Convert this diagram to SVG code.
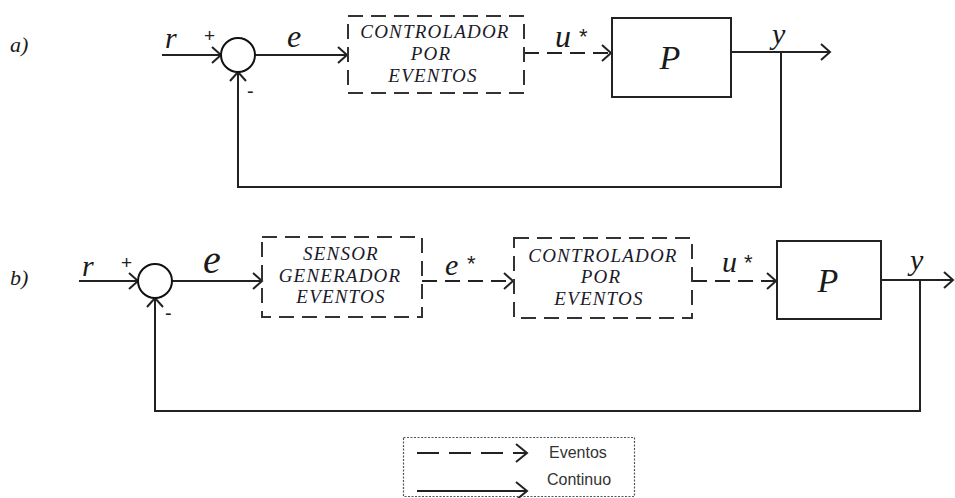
<svg xmlns="http://www.w3.org/2000/svg" width="955" height="498" viewBox="0 0 955 498">
<defs>
<style>
.ln{fill:none;stroke:#222;stroke-width:2}
.dash{fill:none;stroke:#222;stroke-width:2;stroke-dasharray:15 8}
.box{fill:none;stroke:#222;stroke-width:2}
.dbox{fill:none;stroke:#333;stroke-width:2;stroke-dasharray:15 8}
.sum{fill:#fff;stroke:#111;stroke-width:2}
.it{font-family:'Liberation Serif','DejaVu Serif',serif;font-style:italic;fill:#1a1a1a}
.bt{font-family:'Liberation Serif','DejaVu Serif',serif;font-style:italic;font-size:19px;letter-spacing:1.2px;fill:#1a1a2a;text-anchor:middle}
.sg{font-family:'Liberation Sans',sans-serif;fill:#222}
.lg{font-family:'Liberation Sans',sans-serif;font-size:16px;fill:#333}
</style>
<marker id="ar" markerUnits="userSpaceOnUse" markerWidth="12" markerHeight="18" refX="10" refY="9" orient="auto">
<path d="M1,1 L10,9 L1,17" fill="none" stroke="#222" stroke-width="2"/>
</marker>
<marker id="arL" markerUnits="userSpaceOnUse" markerWidth="14" markerHeight="20" refX="12" refY="10" orient="auto">
<path d="M1,1 L12,10 L1,19" fill="none" stroke="#222" stroke-width="2"/>
</marker>
</defs>
<rect width="955" height="498" fill="#fff"/>

<g id="connectors">
<path class="ln" d="M162,55 H221" marker-end="url(#ar)"/>
<path class="ln" d="M255,55 H347" marker-end="url(#ar)"/>
<path class="dash" d="M524,53 H611" marker-end="url(#ar)"/>
<path class="ln" d="M731,52 H830" marker-end="url(#ar)"/>
<path class="ln" d="M781,52 V187 H238 V72" marker-end="url(#ar)"/>

<path class="ln" d="M79,281 H138" marker-end="url(#ar)"/>
<path class="ln" d="M172,281 H262" marker-end="url(#ar)"/>
<path class="dash" d="M422,281 H513" marker-end="url(#ar)"/>
<path class="dash" d="M692,281 H776" marker-end="url(#ar)"/>
<path class="ln" d="M881,280 H953" marker-end="url(#ar)"/>
<path class="ln" d="M920,280 V411 H155 V298" marker-end="url(#ar)"/>
</g>

<g id="labels">
<text class="it" x="10" y="52" font-size="22">a)</text>
<text class="it" x="10" y="285" font-size="22">b)</text>
<text class="it" x="165" y="48" font-size="30">r</text>
<text class="it" x="287" y="47" font-size="32">e</text>
<text class="it" x="555" y="47" font-size="32">u</text>
<text class="sg" x="579" y="44" font-size="22">*</text>
<text class="it" x="772" y="44" font-size="30">y</text>
<text class="it" x="82" y="276" font-size="30">r</text>
<text class="it" x="203" y="273" font-size="40">e</text>
<text class="it" x="445" y="275" font-size="30">e</text>
<text class="sg" x="467" y="271" font-size="22">*</text>
<text class="it" x="722" y="272" font-size="30">u</text>
<text class="sg" x="744" y="270" font-size="22">*</text>
<text class="it" x="910" y="270" font-size="30">y</text>
</g>

<g id="sum-a">
<circle class="sum" cx="238" cy="55" r="17"/>
<text class="sg" x="204" y="42" font-size="19">+</text>
<text class="sg" x="247" y="98" font-size="20">-</text>
</g>

<g id="controlador-a">
<rect class="dbox" x="348" y="16" width="176" height="77"/>
<text class="bt" x="435" y="38">CONTROLADOR</text>
<text class="bt" x="431" y="60">POR</text>
<text class="bt" x="433" y="82">EVENTOS</text>
</g>

<g id="planta-a">
<rect class="box" x="612" y="18" width="119" height="79"/>
<text class="it" x="670" y="69" font-size="34" text-anchor="middle">P</text>
</g>

<g id="sum-b">
<circle class="sum" cx="155" cy="281" r="17"/>
<text class="sg" x="121" y="269" font-size="19">+</text>
<text class="sg" x="165" y="320" font-size="20">-</text>
</g>

<g id="sensor-b">
<rect class="dbox" x="262" y="237" width="160" height="80"/>
<text class="bt" x="341" y="260">SENSOR</text>
<text class="bt" x="340" y="282">GENERADOR</text>
<text class="bt" x="341" y="303">EVENTOS</text>
</g>

<g id="controlador-b">
<rect class="dbox" x="514" y="238" width="178" height="80"/>
<text class="bt" x="603" y="262">CONTROLADOR</text>
<text class="bt" x="601" y="283">POR</text>
<text class="bt" x="599" y="305">EVENTOS</text>
</g>

<g id="planta-b">
<rect class="box" x="777" y="241" width="104" height="78"/>
<text class="it" x="828" y="292" font-size="34" text-anchor="middle">P</text>
</g>

<g id="legend">
<rect x="403.5" y="437.5" width="231" height="59" fill="none" stroke="#555" stroke-width="1.2" stroke-dasharray="2 1.5"/>
<path d="M417,453 H527" fill="none" stroke="#222" stroke-width="2" stroke-dasharray="22 10" marker-end="url(#arL)"/>
<path d="M417,491 H527" fill="none" stroke="#222" stroke-width="2" marker-end="url(#arL)"/>
<text class="lg" x="549" y="458">Eventos</text>
<text class="lg" x="547" y="485">Continuo</text>
</g>
</svg>
